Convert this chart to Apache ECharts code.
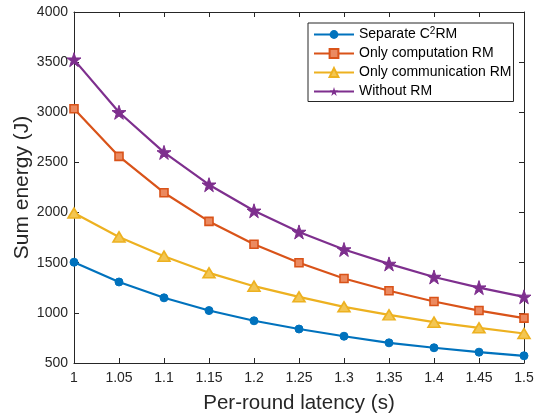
<!DOCTYPE html>
<html>
<head>
<meta charset="utf-8">
<script src="https://cdn.jsdelivr.net/npm/echarts@6/dist/echarts.min.js"></script>
<style>html,body{margin:0;padding:0;background:#fff}#c{width:534px;height:415px}</style>
</head>
<body>
<div id="c"></div>
<script>
var latency = [1, 1.05, 1.1, 1.15, 1.2, 1.25, 1.3, 1.35, 1.4, 1.45, 1.5];
var separateC2RM = [1505, 1308, 1150, 1023, 921, 839, 767, 701, 652, 608, 572];
var onlyComputationRM = [3035, 2560, 2198, 1912, 1684, 1500, 1342, 1220, 1113, 1023, 947];
var onlyCommunicationRM = [1995, 1757, 1565, 1399, 1266, 1160, 1060, 980, 907, 851, 794];
var withoutRM = [3525, 3000, 2600, 2278, 2018, 1807, 1632, 1488, 1358, 1252, 1160];
var seriesNames = ['Separate C2RM', 'Only computation RM', 'Only communication RM', 'Without RM'];
var yTicks = [500, 1000, 1500, 2000, 2500, 3000, 3500, 4000];

function pairs(arr) { return latency.map(function (x, i) { return [x, arr[i]]; }); }

var chart = echarts.init(document.getElementById('c'));
var font = 'Liberation Sans, Arial, Helvetica, sans-serif';
var axisCol = '#262626';
var grid = { left: 74, right: 10, top: 12, bottom: 52, containLabel: false, outerBoundsMode: 'none' };

var starPath = 'path://M50,0 L61.8,36.2 L100,36.2 L69.1,58.6 L80.9,95.1 L50,72.7 L19.1,95.1 L30.9,58.6 L0,36.2 L38.2,36.2 Z';

chart.setOption({
  animation: false,
  backgroundColor: '#fff',
  grid: grid,
  legend: {
    orient: 'vertical',
    left: 308, top: 23,
    padding: [3, 2, 3, 5],
    itemWidth: 40, itemHeight: 11, itemGap: 5,
    borderColor: axisCol, borderWidth: 1,
    backgroundColor: '#fff',
    data: seriesNames,
    formatter: function (name) {
      if (name === 'Separate C2RM') return '{t|Separate C}{s|2}{t|RM}';
      return '{t|' + name + '}';
    },
    textStyle: {
      fontFamily: font, fontSize: 14, color: '#000',
      rich: {
        t: { fontFamily: font, fontSize: 14, color: '#000' },
        s: { fontFamily: font, fontSize: 10, color: '#000', verticalAlign: 'top', padding: [0, 0, 7, 0] }
      }
    }
  },
  xAxis: [{
    type: 'value', min: 1, max: 1.5, interval: 0.05,
    name: 'Per-round latency (s)', nameLocation: 'middle', nameGap: 30, nameMoveOverlap: false,
    nameTextStyle: { fontFamily: font, fontSize: 20.5, color: axisCol },
    axisLine: { show: true, lineStyle: { color: axisCol, width: 1 } },
    axisTick: { show: true, inside: true, length: 5, lineStyle: { color: axisCol } },
    axisLabel: { fontFamily: font, fontSize: 14, color: axisCol, margin: 8,
      formatter: function (v) { return String(parseFloat(v.toFixed(2))); } },
    splitLine: { show: false }
  }, {
    type: 'value', min: 1, max: 1.5, interval: 0.05, position: 'top',
    axisLine: { show: true, lineStyle: { color: axisCol, width: 1 } },
    axisTick: { show: true, inside: true, length: 5, lineStyle: { color: axisCol } },
    axisLabel: { show: false }, splitLine: { show: false }
  }],
  yAxis: [{
    type: 'value', min: yTicks[0], max: yTicks[yTicks.length - 1], interval: 500,
    name: 'Sum energy (J)', nameLocation: 'middle', nameGap: 41, nameMoveOverlap: false,
    nameTextStyle: { fontFamily: font, fontSize: 21, color: axisCol },
    axisLine: { show: true, lineStyle: { color: axisCol, width: 1 } },
    axisTick: { show: true, inside: true, length: 5, lineStyle: { color: axisCol } },
    axisLabel: { fontFamily: font, fontSize: 14, color: axisCol, margin: 6,
      formatter: function (v) { return String(v); } },
    splitLine: { show: false }
  }, {
    type: 'value', min: yTicks[0], max: yTicks[yTicks.length - 1], interval: 500, position: 'right',
    axisLine: { show: true, lineStyle: { color: axisCol, width: 1 } },
    axisTick: { show: true, inside: true, length: 5, lineStyle: { color: axisCol } },
    axisLabel: { show: false }, splitLine: { show: false }
  }],
  series: [{
    name: seriesNames[0], type: 'line', data: pairs(separateC2RM),
    symbol: 'circle', symbolSize: 8,
    lineStyle: { color: '#0072BD', width: 2.2 },
    itemStyle: { color: '#0072BD', borderColor: '#0072BD' }
  }, {
    name: seriesNames[1], type: 'line', data: pairs(onlyComputationRM),
    symbol: 'rect', symbolSize: 8,
    lineStyle: { color: '#D95319', width: 2.2 },
    itemStyle: { color: '#EB8A60', borderColor: '#D95319', borderWidth: 1.6 }
  }, {
    name: seriesNames[2], type: 'line', data: pairs(onlyCommunicationRM),
    symbol: 'triangle', symbolSize: [12, 10],
    lineStyle: { color: '#EDB120', width: 2.2 },
    itemStyle: { color: '#F3C653', borderColor: '#EDB120', borderWidth: 1.6 }
  }, {
    name: seriesNames[3], type: 'line', data: pairs(withoutRM),
    symbol: starPath, symbolSize: 14,
    lineStyle: { color: '#7E2F8E', width: 2.2 },
    itemStyle: { color: '#7E2F8E', borderColor: '#7E2F8E' }
  }]
});
</script>
</body>
</html>
